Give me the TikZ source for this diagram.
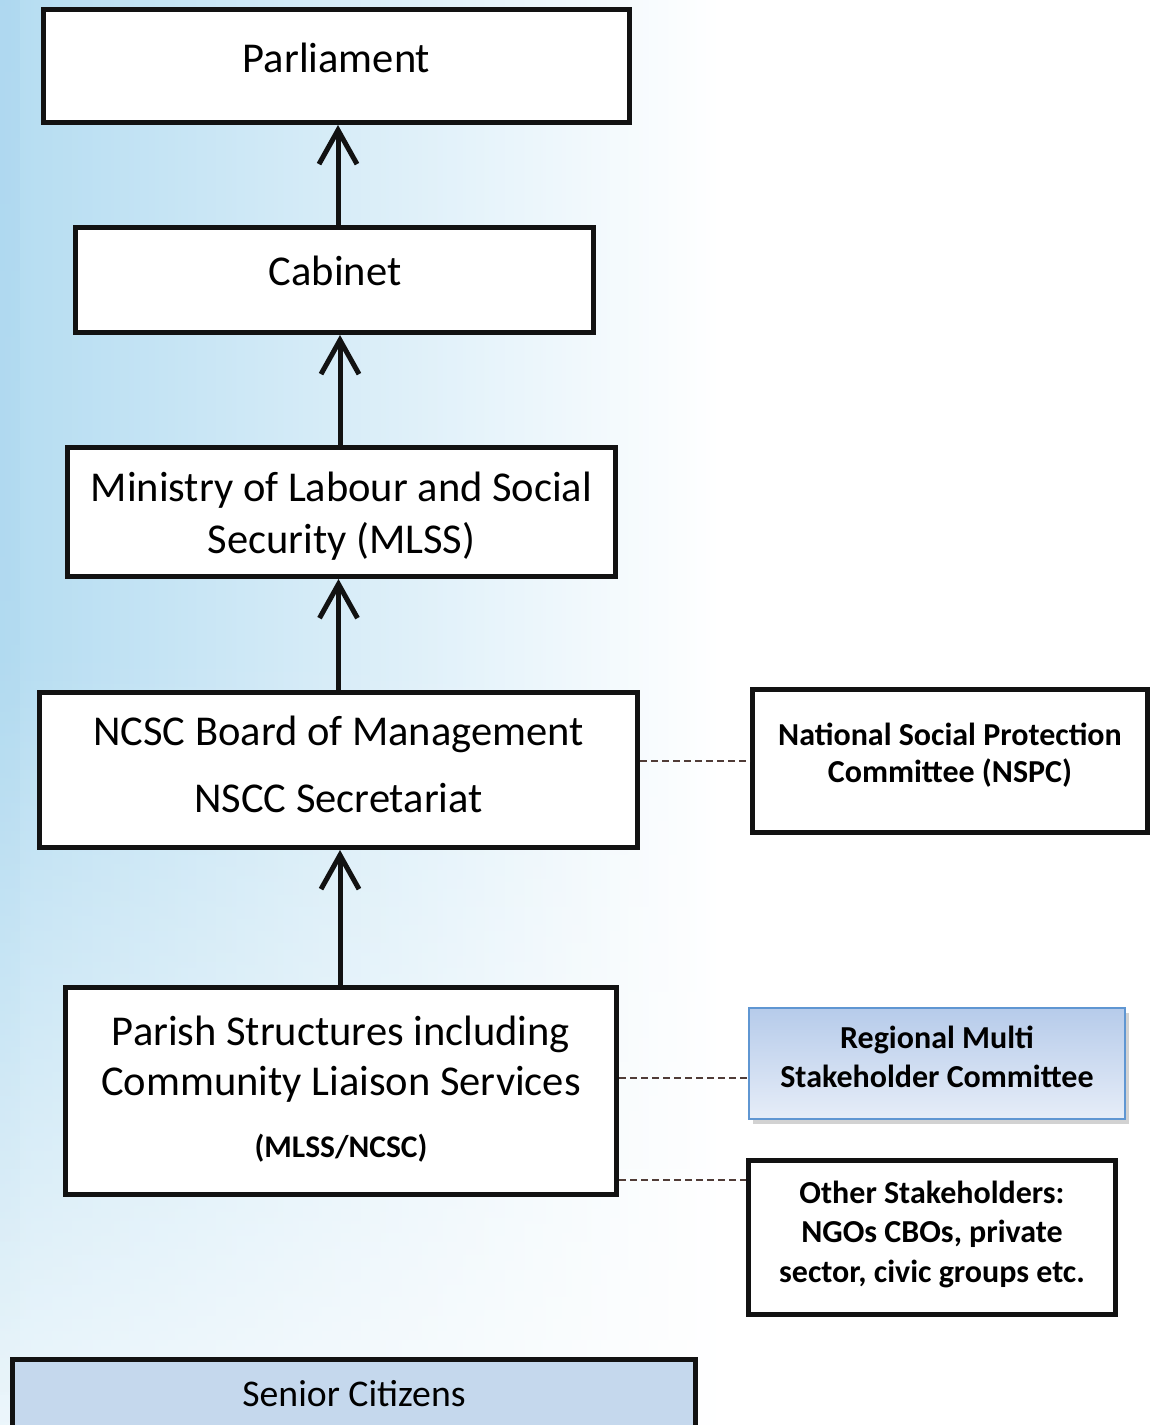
\documentclass[tikz,border=0pt]{standalone}
\usepackage{fontspec}
\setmainfont{Carlito}
\usetikzlibrary{arrows.meta,fadings,shadows}
\definecolor{bgblue}{RGB}{180,220,241}
\definecolor{bgedge}{RGB}{160,206,238}
\definecolor{dashcol}{RGB}{80,60,55}
\definecolor{regtop}{RGB}{182,203,234}
\definecolor{regbot}{RGB}{230,237,248}
\definecolor{regline}{RGB}{95,150,210}
\definecolor{seniorfill}{RGB}{197,216,237}
\begin{document}
\begin{tikzpicture}[x=1pt,y=-1pt,
  box/.style={draw=black!93, line width=5pt, fill=white, rectangle, anchor=north west, inner sep=0pt},
  maintext/.style={font=\fontsize{42.5}{52}\selectfont, align=center, anchor=base, inner sep=0pt},
  sidetext/.style={font=\bfseries\fontsize{32}{39}\selectfont, align=center, anchor=base, inner sep=0pt},
  arr/.style={line width=5pt, draw=black!93, -{Straight Barb[length=34pt,width=38pt,line width=5pt]}},
  dashline/.style={draw=dashcol, line width=1.6pt, dash pattern=on 7pt off 4pt},
]
\useasboundingbox (0,0) rectangle (1151,1425);
\clip (0,0) rectangle (1151,1425);
% background
\fill[white] (0,0) rectangle (1151,1425);
\fill[left color=bgblue, right color=white] (0,0) rectangle (720,1425);
\fill[white, path fading=north, opacity=0.75] (0,650) rectangle (720,1425);
\fill[bgedge, opacity=0.25, path fading=south] (0,0) rectangle (20,1400);

% main column boxes
\node[box, minimum width=586pt, minimum height=113pt] (parl) at (41,7) {};
\node[box, minimum width=518pt, minimum height=105pt] (cab) at (73,225) {};
\node[box, minimum width=548pt, minimum height=129pt] (mlss) at (65,445) {};
\node[box, minimum width=598pt, minimum height=155pt] (ncsc) at (37,690) {};
\node[box, minimum width=551pt, minimum height=207pt] (parish) at (63,985) {};

% main column texts (anchor base = baseline of last line)
\node[maintext] (parlT) at (336.5,72) {Parliament};
\node[maintext] (cabT) at (335,285) {Cabinet};
\node[maintext] (mlssT) at (341.5,553) {Ministry of Labour and Social\\Security (MLSS)};
\node[maintext] (ncscT) at (338.5,812) {NCSC Board of Management\\[15pt]NSCC Secretariat};
\node[maintext, font=\fontsize{42.5}{50}\selectfont] (parishT) at (341,1095) {Parish Structures including\\Community Liaison Services};
\node[font=\bfseries\fontsize{31.5}{36}\selectfont, anchor=base, inner sep=0pt] (parishS) at (341,1157) {(MLSS/NCSC)};

% side boxes
\node[box, minimum width=395pt, minimum height=143pt] (nspc) at (750,687) {};
\node[sidetext] (nspcT) at (950,782) {National Social Protection\\[-2pt]Committee (NSPC)};
\node[box, line width=1.6pt, draw=regline, top color=regtop, bottom color=regbot,
  drop shadow={shadow xshift=4pt, shadow yshift=-5pt, opacity=0.35},
  minimum width=376pt, minimum height=111pt] (reg) at (748,1007) {};
\node[sidetext] (regT) at (937,1087) {Regional Multi\\Stakeholder Committee};
\node[box, minimum width=367pt, minimum height=154pt] (other) at (746,1158) {};
\node[sidetext] (otherT) at (932,1282) {Other Stakeholders:\\[0.5pt]NGOs CBOs, private\\[0.5pt]sector, civic groups etc.};

% senior citizens
\node[box, fill=seniorfill, minimum width=683pt, minimum height=120pt] (senior) at (10,1357) {};
\node[font=\fontsize{37.7}{44}\selectfont, anchor=base, inner sep=0pt] (seniorT) at (354,1406) {Senior Citizens};

% arrows
\draw[arr] (cab.north -| 338,0) -- (parl.south -| 338,0);
\draw[arr] (mlss.north -| 340,0) -- (cab.south -| 340,0);
\draw[arr] (ncsc.north -| 338.5,0) -- (mlss.south -| 338.5,0);
\draw[arr] (parish.north -| 340,0) -- (ncsc.south -| 340,0);

% dashed links
\draw[dashline] (ncsc.east |- 0,761) -- (nspc.west |- 0,761);
\draw[dashline] (parish.east |- 0,1078) -- (reg.west |- 0,1078);
\draw[dashline] (parish.east |- 0,1180) -- (other.west |- 0,1180);
\end{tikzpicture}
\end{document}
